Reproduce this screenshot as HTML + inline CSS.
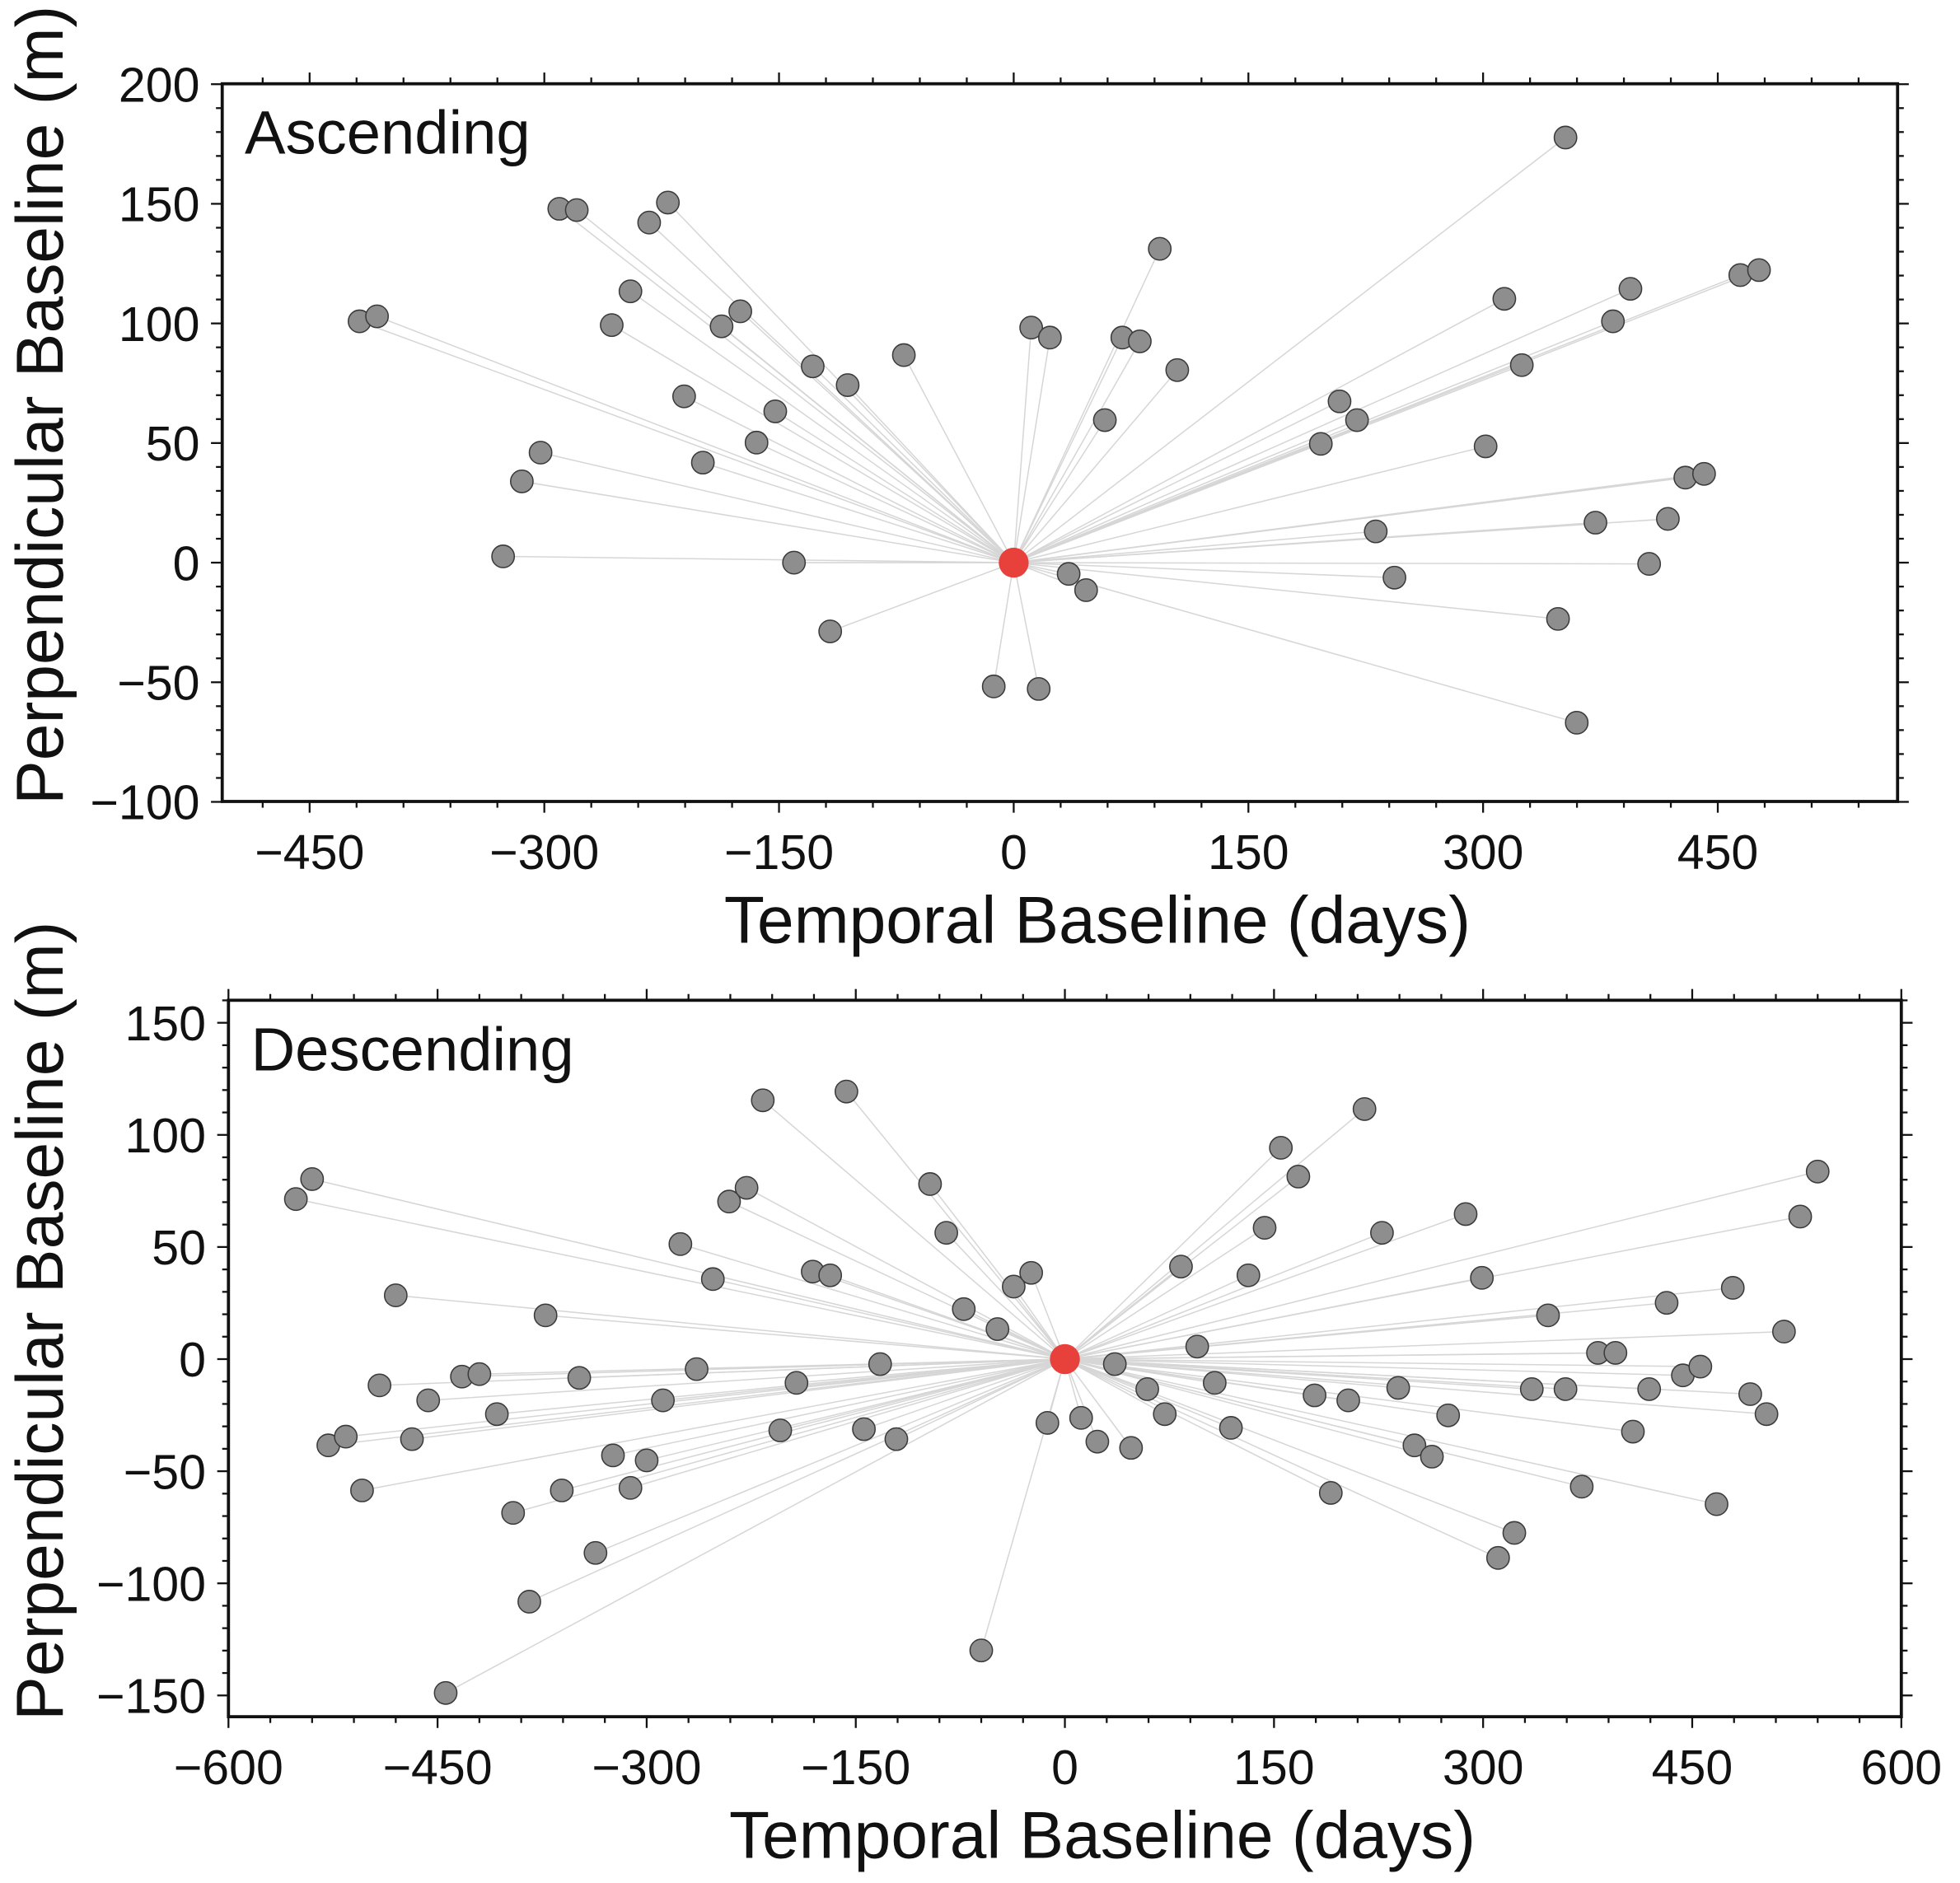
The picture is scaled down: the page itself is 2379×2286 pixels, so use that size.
<!DOCTYPE html>
<html><head><meta charset="utf-8"><style>
html,body{margin:0;padding:0;background:#fff;}
svg{display:block;}
text{font-family:"Liberation Sans",sans-serif;fill:#111;}
</style></head><body>
<svg id="s" width="2379" height="2286" viewBox="0 0 1570 1506" preserveAspectRatio="none" xmlns="http://www.w3.org/2000/svg"></svg>
<script>
const s=document.getElementById('s');let h='';
function panel(o){
 const {x0,x1,y0,y1,cx,cy,pts,xt,yt,xmap,ymap,xmin,xmaj,ymin,ymaj,title,xr,yr}=o;
 for(const p of pts)h+=`<line x1="${cx}" y1="${cy}" x2="${p[0]}" y2="${p[1]}" stroke="#d6d6d6" stroke-width="1"/>`;
 for(const p of pts)h+=`<circle cx="${p[0]}" cy="${p[1]}" r="9" fill="#8e8e8e" stroke="#3a3a3a" stroke-width="1"/>`;
 h+=`<circle cx="${cx}" cy="${cy}" r="12" fill="#e8413c"/>`;
 h+=`<rect x="${x0}" y="${y0}" width="${x1-x0}" height="${y1-y0}" fill="none" stroke="#111" stroke-width="2.5"/>`;
 for(let v=xr[0];v<=xr[1];v+=xmin){const X=xmap(v);if(X<x0-1||X>x1+1)continue;const L=(Math.abs(v%xmaj)<1e-6)?9:5;
  h+=`<line x1="${X}" y1="${y1}" x2="${X}" y2="${y1+L}" stroke="#111" stroke-width="1.5"/><line x1="${X}" y1="${y0}" x2="${X}" y2="${y0-L}" stroke="#111" stroke-width="1.5"/>`;}
 for(let v=yr[0];v<=yr[1];v+=ymin){const Y=ymap(v);if(Y<y0-1||Y>y1+1)continue;const L=(Math.abs(v%ymaj)<1e-6)?9:5;
  h+=`<line x1="${x0}" y1="${Y}" x2="${x0-L}" y2="${Y}" stroke="#111" stroke-width="1.5"/><line x1="${x1}" y1="${Y}" x2="${x1+L}" y2="${Y}" stroke="#111" stroke-width="1.5"/>`;}
 for(const v of xt){const X=xmap(v);h+=`<text x="${X}" y="${y1+54}" font-size="39" text-anchor="middle">${v<0?'\u2212'+(-v):v}</text>`;}
 for(const v of yt){const Y=ymap(v);h+=`<text x="${x0-18}" y="${Y+14}" font-size="39" text-anchor="end">${v<0?'\u2212'+(-v):v}</text>`;}
 h+=`<text x="${(x0+x1)/2+30}" y="${y1+113}" font-size="53" text-anchor="middle">Temporal Baseline (days)</text>`;
 h+=`<text transform="translate(50,${(y0+y1)/2-30}) rotate(-90)" font-size="53" text-anchor="middle">Perpendicular Baseline (m)</text>`;
 h+=`<text x="${x0+18}" y="${y0+56}" font-size="49">${title}</text>`;
}
const A=[[288,257],[302,253],[448,167],[462,168],[535,162],[520,178],[505,233],[490,260],[578,261],[593,249],[548,317],[563,370],[606,354],[621,329],[651,293],[679,308],[724,284],[433,362],[418,385],[403,445],[636,450],[665,505],[796,549],[832,551],[929,199],[826,262],[841,270],[899,270],[913,273],[943,296],[885,336],[856,459],[870,472],[1254,110],[1205,239],[1306,231],[1292,257],[1394,220],[1409,216],[1219,292],[1073,321],[1087,336],[1058,355],[1190,357],[1350,382],[1365,379],[1278,418],[1336,415],[1102,425],[1117,462],[1321,451],[1248,495],[1263,578]];
const B=[[237,959],[250,943],[317,1036],[304,1108],[290,1192],[263,1156],[277,1149],[343,1120],[330,1151],[370,1101],[384,1099],[398,1131],[411,1210],[424,1281],[357,1354],[437,1052],[450,1192],[464,1102],[477,1242],[491,1164],[505,1190],[518,1168],[531,1120],[545,995],[558,1095],[571,1023],[584,961],[598,950],[611,880],[625,1144],[638,1106],[651,1017],[665,1020],[678,873],[692,1143],[705,1091],[718,1151],[745,947],[758,986],[772,1047],[786,1320],[799,1063],[812,1029],[826,1018],[839,1138],[866,1134],[879,1153],[893,1091],[906,1158],[919,1111],[933,1131],[946,1013],[959,1077],[973,1106],[986,1142],[1000,1020],[1013,982],[1040,941],[1026,918],[1053,1116],[1066,1194],[1080,1120],[1093,887],[1107,986],[1120,1110],[1133,1156],[1147,1165],[1160,1132],[1174,971],[1187,1022],[1200,1246],[1213,1226],[1227,1111],[1240,1052],[1254,1111],[1267,1189],[1280,1082],[1294,1082],[1308,1145],[1321,1111],[1335,1042],[1348,1100],[1362,1093],[1375,1203],[1388,1030],[1402,1115],[1415,1131],[1429,1065],[1442,973],[1456,937]];
panel({x0:178,x1:1520,y0:67,y1:641,cx:812,cy:450,pts:A,xt:[-450,-300,-150,0,150,300,450],yt:[-100,-50,0,50,100,150,200],
 xmap:v=>812+v*1.2533,ymap:v=>450-v*1.9133,xmin:30,xmaj:150,ymin:10,ymaj:50,xr:[-600,600],yr:[-100,200],title:'Ascending'});
panel({x0:183,x1:1523,y0:800,y1:1373,cx:853,cy:1087,pts:B,xt:[-600,-450,-300,-150,0,150,300,450,600],yt:[-150,-100,-50,0,50,100,150],
 xmap:v=>853+v*1.11667,ymap:v=>1087-v*1.7933,xmin:30,xmaj:150,ymin:10,ymaj:50,xr:[-600,600],yr:[-150,160],title:'Descending'});
s.innerHTML=h;
</script>
</body></html>
